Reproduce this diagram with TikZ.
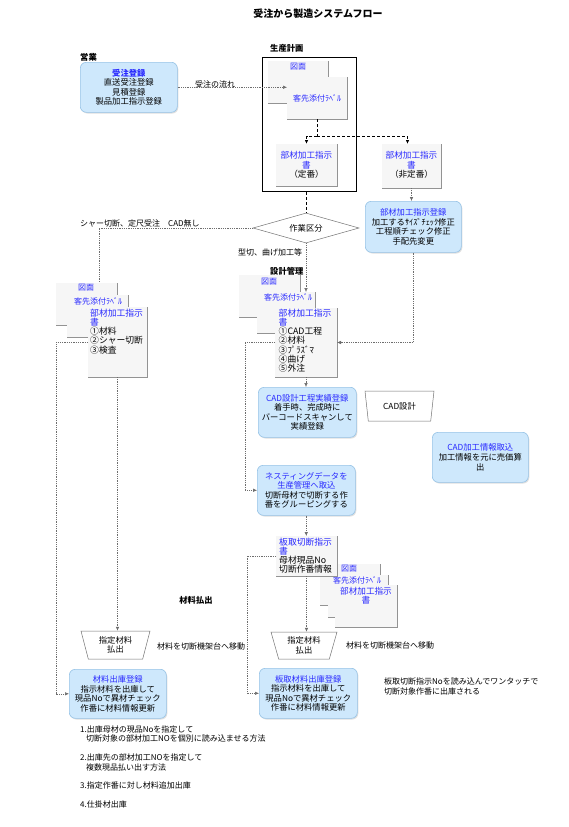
\documentclass[tikz,border=0pt]{standalone}
\usepackage{fontspec}
\setmainfont{Noto Sans CJK JP}
\usetikzlibrary{arrows.meta,shapes.geometric,shadows,calc}
\definecolor{tblue}{RGB}{40,40,255}
\definecolor{boxblue}{RGB}{206,232,252}
\definecolor{boxedge}{RGB}{150,195,230}
\definecolor{docgray}{RGB}{246,246,246}
\definecolor{lineg}{RGB}{110,110,110}
\tikzset{
 bluebox/.style={draw=boxedge, fill=boxblue, rounded corners=6pt, line width=0.6pt, anchor=north west, align=center, inner sep=1pt, drop shadow={shadow xshift=1pt,shadow yshift=-1.2pt,opacity=0.25}},
 docbox/.style={fill=docgray, anchor=north west, inner sep=0pt, outer sep=0pt},
 docedge/.style={draw=gray!85, line width=0.6pt},
 doctext/.style={align=center, inner sep=0pt, font=\fontsize{8.6}{9.3}\selectfont},
 docleft/.style={align=left, inner sep=0pt, anchor=north west, font=\fontsize{8.8}{9.3}\selectfont},
 conn/.style={draw=lineg, line width=0.5pt, dash pattern=on 1pt off 0.8pt},
 arr/.style={-{Latex[length=4pt,width=3.5pt]}},
 plandash/.style={draw=black, line width=0.8pt, dash pattern=on 3pt off 2pt},
 trap/.style={draw=gray!90!black, line width=0.5pt, trapezium, shape border rotate=180, trapezium stretches body, trapezium left angle=#1, trapezium right angle=#1, align=center, inner sep=0pt},
 head/.style={font=\fontsize{8.3}{10}\selectfont\bfseries, inner sep=0pt},
 lbl/.style={font=\fontsize{8}{9.5}\selectfont, inner sep=0pt},
}
\newcommand\docbox[5]{\node[docbox, minimum width=#4pt, minimum height=#5pt] (#1) at (#2,#3) {};\draw[docedge] (#1.south west) -- (#1.south east) -- (#1.north east);}
\begin{document}
\begin{tikzpicture}[x=1pt,y=-1pt,font=\fontsize{8.3}{9.6}\selectfont]
\useasboundingbox (0,0) rectangle (568,827);
\fill[white] (0,0) rectangle (568,827);
% title
\node[font=\fontsize{10}{12}\selectfont\bfseries] (title) at (318,14) {受注から製造システムフロー};
% sales
\node[head, anchor=west] (eigyo) at (80,57) {営業};
\node[bluebox, minimum width=97pt, minimum height=50pt] (juchu) at (80,62) {{\color{tblue}\bfseries 受注登録}\\直送受注登録\\見積登録\\製品加工指示登録};
% production planning
\node[head, anchor=west] (seisan) at (270,48) {生産計画};
\node[draw=black, line width=1pt, minimum width=94pt, minimum height=134pt, anchor=north west, inner sep=0pt] (plan) at (262,57) {};
\docbox{zA}{268}{61}{60}{42}
\node[lbl,text=tblue] (zAt) at (298,67) {図面};
\docbox{kA}{287}{77}{60}{42}
\node[lbl,text=tblue] (kAt) at (317,98) {客先添付ﾗﾍﾞﾙ};
\docbox{bA}{276}{144}{61}{42}
\node[doctext] (bAt) at (306.5,165) {{\color{tblue}部材加工指示}\\{\color{tblue}書}\\（定番）};
\docbox{bB}{382}{144}{59}{44}
\node[doctext] (bBt) at (411.5,165) {{\color{tblue}部材加工指示}\\{\color{tblue}書}\\（非定番）};
\node[bluebox, minimum width=96pt, minimum height=51pt] (bt) at (365,201) {{\color{tblue}部材加工指示登録}\\加工するｻｲｽﾞﾁｪｯｸ修正\\工程順チェック修正\\手配先変更};
\node[lbl, anchor=south west] (flow) at (195,88) {受注の流れ};
% decision
\node[diamond, draw=gray!90!black, line width=0.5pt, minimum width=106pt, minimum height=30pt, inner sep=0pt, aspect=3.5] (kubun) at (306,228) {作業区分};
\node[lbl, anchor=south west] (lab1) at (80,227.5) {シャー切断、定尺受注　CAD無し};
\node[lbl, anchor=west] (lab2) at (238,252) {型切、曲げ加工等};
% left stack
\docbox{zB}{56}{283}{61}{42}
\node[lbl,text=tblue] (zBt) at (86,288) {図面};
\docbox{kB}{67}{295}{61}{42}
\node[lbl,text=tblue] (kBt) at (98,301) {客先添付ﾗﾍﾞﾙ};
\docbox{bBl}{88}{307}{59}{70}
\node[docleft] (bBlt) at (90,308.5) {{\color{tblue}部材加工指示}\\{\color{tblue}書}\\①材料\\②シャー切断\\③検査};
% design management stack
\node[head, anchor=west] (sekkei) at (270,271) {設計管理};
\docbox{zC}{239}{275}{61}{42}
\node[lbl,text=tblue] (zCt) at (269,282) {図面};
\docbox{kC}{257}{292}{58}{41}
\node[lbl,text=tblue] (kCt) at (288,297) {客先添付ﾗﾍﾞﾙ};
\docbox{bC}{275}{308}{62}{69}
\node[docleft] (bCt) at (278.5,308.5) {{\color{tblue}部材加工指示}\\{\color{tblue}書}\\①CAD工程\\②材料\\③ﾌﾟﾗｽﾞﾏ\\④曲げ\\⑤外注};
% CAD
\node[bluebox, minimum width=98pt, minimum height=50pt] (cadj) at (258,387) {{\color{tblue}CAD設計工程実績登録}\\着手時、完成時に\\バーコードスキャンして\\実績登録};
\node[trap=66.6, minimum width=69pt, minimum height=30pt] (cadd) at (399.5,406) {CAD設計};
\node[bluebox, minimum width=96pt, minimum height=50pt] (cadk) at (432,432) {{\color{tblue}CAD加工情報取込}\\加工情報を元に売価算\\出};
\node[bluebox, minimum width=98pt, minimum height=50pt] (nest) at (257,465) {{\color{tblue}ネスティングデータを}\\{\color{tblue}生産管理へ取込}\\切断母材で切断する作\\番をグルーピングする};
% cutting instruction stack
\docbox{zD}{320}{564}{60}{41}
\node[lbl,text=tblue] (zDt) at (349,569) {図面};
\docbox{kD}{328}{575}{60}{42}
\node[lbl,text=tblue] (kDt) at (357,580) {客先添付ﾗﾍﾞﾙ};
\docbox{bD}{335}{585}{62}{42}
\node[doctext] (bDt) at (366,595.5) {{\color{tblue}部材加工指示}\\{\color{tblue}書}};
\docbox{ita}{276}{536}{61}{40}
\node[docleft] (itat) at (279,537.5) {{\color{tblue}板取切断指示}\\{\color{tblue}書}\\母材現品No\\切断作番情報};
% material issue
\node[head] (harai) at (196,600) {材料払出};
\node[trap=67, minimum width=69pt, minimum height=28pt] (hl) at (115.5,645) {指定材料\\払出};
\node[lbl, anchor=west] (mv1) at (157,646) {材料を切断機架台へ移動};
\node[bluebox, minimum width=97pt, minimum height=49pt] (zm) at (69,669) {{\color{tblue}材料出庫登録}\\指示材料を出庫して\\現品Noで異材チェック\\作番に材料情報更新};
\node[trap=66, minimum width=66pt, minimum height=27pt] (hm) at (304,645.5) {指定材料\\払出};
\node[lbl, anchor=west] (mv2) at (346,645) {材料を切断機架台へ移動};
\node[bluebox, minimum width=98pt, minimum height=50pt] (itm) at (259,668) {{\color{tblue}板取材料出庫登録}\\指示材料を出庫して\\現品Noで異材チェック\\作番に材料情報更新};
\node[lbl, anchor=north west, align=left, font=\fontsize{8}{10}\selectfont] (note1) at (384,678) {板取切断指示Noを読み込んでワンタッチで\\切断対象作番に出庫される};
\node[lbl, anchor=north west, align=left, font=\fontsize{8}{9.4}\selectfont] (notes) at (80,725.5) {1.出庫母材の現品Noを指定して\\\hspace*{6pt}切断対象の部材加工NOを個別に読み込ませる方法\\~\\2.出庫先の部材加工NOを指定して\\\hspace*{6pt}複数現品払い出す方法\\~\\3.指定作番に対し材料追加出庫\\~\\4.仕掛材出庫};
% connectors
\draw[conn,arr] (juchu.east) -- (juchu.east -| kA.west);
\coordinate (sp) at (317,136);
\draw[plandash] (kA.south) -- (sp);
\draw[plandash,arr] (sp) -| (bA.north);
\draw[plandash,arr] (sp) -| ($(bB.north)+(-4,0)$);
\draw[conn,arr] (bB.south) -- (bB.south |- bt.north);
\draw[plandash] (kubun.north |- plan.south) -- (kubun.north);
\draw[conn] (kubun.west) -| ($(zB.north)+(12.5,0)$);
\draw[conn,arr] (kubun.south) -- (kubun.south |- kC.north);
\draw[conn,arr] (bt.south) |- (bC.east);
\draw[conn,arr] (bC.south) -- (bC.south |- cadj.north);
\draw[conn,arr] (bC.west) -- ++(-30,0) |- (nest.west);
\draw[conn,arr] (nest.south) -- (nest.south |- ita.north);
\draw[conn,arr] (ita.south) -- (ita.south |- hm.north);
\draw[conn,arr] (ita.west) -- ++(-29,0) |- (itm.west);
\draw[conn,arr] (bBl.west) -- ++(-32,0) |- (zm.west);
\draw[conn,arr] (bBl.south) -- (bBl.south |- hl.north);
\end{tikzpicture}
\end{document}
